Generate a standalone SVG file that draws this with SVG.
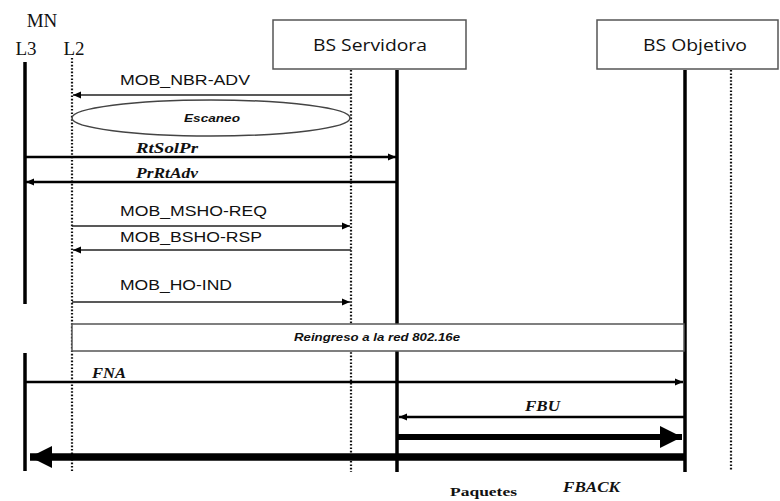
<svg xmlns="http://www.w3.org/2000/svg" width="780" height="501" viewBox="0 0 780 501">
<style>
.bg{fill:#fff}
.box{fill:#fff;stroke:#555;stroke-width:1.5}
.solid{stroke:#000;stroke-width:3.5;fill:none}
.dot{stroke:#111;stroke-width:2.2;stroke-dasharray:1.6 1.8;fill:none}
.thin{stroke:#222;stroke-width:1.6;fill:none}
.med{stroke:#000;stroke-width:2.6;fill:none}
.thick{stroke:#000;stroke-width:6;fill:none}
.thicker{stroke:#000;stroke-width:7.5;fill:none}
.lbl{font-family:"Liberation Sans",Arial,sans-serif;font-size:15.5px;fill:#111}
.hdr{font-family:"Open Sans","Noto Sans",sans-serif;font-size:16px;fill:#111}
.ser{font-family:"Liberation Serif","Times New Roman",serif;font-size:19px;fill:#111}
.bi{font-family:"Liberation Serif","Times New Roman",serif;font-size:14px;font-weight:bold;font-style:italic;fill:#111}
.bs{font-family:"Liberation Serif","Times New Roman",serif;font-size:13px;font-weight:bold;fill:#111}
.sbi{font-family:"Liberation Sans",Arial,sans-serif;font-size:10px;font-weight:bold;font-style:italic;fill:#111}
</style>
<defs>
<marker id="ah" markerUnits="userSpaceOnUse" markerWidth="10" markerHeight="10" refX="8" refY="5" orient="auto">
<path d="M0,1.5 L8,5 L0,8.5 Z" fill="#000"/>
</marker>
<marker id="big" markerUnits="userSpaceOnUse" markerWidth="24" markerHeight="24" refX="22" refY="12" orient="auto">
<path d="M0,1 L22,12 L0,23 Z" fill="#000"/>
</marker>
</defs>
<rect class="bg" x="0" y="0" width="780" height="501"/>

<g id="mn">
<text class="ser" x="42" y="27" text-anchor="middle">MN</text>
<text class="ser" x="26" y="55" text-anchor="middle">L3</text>
<text class="ser" x="74" y="55" text-anchor="middle">L2</text>
<line class="solid" x1="25" y1="62" x2="25" y2="304"/>
<line class="solid" x1="25" y1="353" x2="25" y2="471"/>
<line class="dot" x1="72" y1="58" x2="72" y2="472"/>
</g>

<g id="bs-servidora">
<rect class="box" x="273" y="20" width="193" height="49"/>
<text class="hdr" x="370" y="51" text-anchor="middle" textLength="114" lengthAdjust="spacingAndGlyphs">BS Servidora</text>
<line class="dot" x1="351" y1="70" x2="351" y2="472"/>
<line class="solid" x1="397" y1="70" x2="397" y2="472"/>
</g>

<g id="bs-objetivo">
<rect class="box" x="597" y="20" width="181" height="49"/>
<text class="hdr" x="695" y="51" text-anchor="middle" textLength="104" lengthAdjust="spacingAndGlyphs">BS Objetivo</text>
<line class="solid" x1="685" y1="70" x2="685" y2="472"/>
<line class="dot" x1="731" y1="70" x2="731" y2="471"/>
</g>

<g id="escaneo">
<ellipse cx="211" cy="118" rx="139" ry="18" fill="#fff" stroke="#444" stroke-width="1.5"/>
<text class="sbi" x="212" y="122" text-anchor="middle" textLength="56" lengthAdjust="spacingAndGlyphs">Escaneo</text>
</g>

<g id="reingreso">
<rect x="72" y="324" width="612" height="27" fill="#fff" stroke="#555" stroke-width="1.5"/>
<text class="sbi" x="377" y="341" text-anchor="middle" textLength="166" lengthAdjust="spacingAndGlyphs">Reingreso a la red 802.16e</text>
</g>

<g id="connectors">
<line class="thin" x1="351" y1="95" x2="73" y2="95" marker-end="url(#ah)"/>
<line class="med" x1="25" y1="157" x2="396" y2="157" marker-end="url(#ah)"/>
<line class="med" x1="397" y1="182" x2="26" y2="182" marker-end="url(#ah)"/>
<line class="thin" x1="72" y1="226" x2="350" y2="226" marker-end="url(#ah)"/>
<line class="thin" x1="351" y1="250" x2="73" y2="250" marker-end="url(#ah)"/>
<line class="thin" x1="72" y1="302" x2="350" y2="302" marker-end="url(#ah)"/>
<line class="med" x1="25" y1="382" x2="683" y2="382" marker-end="url(#ah)"/>
<line class="med" x1="685" y1="417" x2="399" y2="417" marker-end="url(#ah)"/>
<line class="thick" x1="397" y1="437" x2="682" y2="437" marker-end="url(#big)"/>
<line class="thicker" x1="685" y1="457" x2="30" y2="457" marker-end="url(#big)"/>
</g>

<g id="labels">
<text class="lbl" x="120" y="85" textLength="130" lengthAdjust="spacingAndGlyphs">MOB_NBR-ADV</text>
<text class="bi" x="136" y="153" textLength="62" lengthAdjust="spacingAndGlyphs">RtSolPr</text>
<text class="bi" x="136" y="178" textLength="62" lengthAdjust="spacingAndGlyphs">PrRtAdv</text>
<text class="lbl" x="120" y="216" textLength="147" lengthAdjust="spacingAndGlyphs">MOB_MSHO-REQ</text>
<text class="lbl" x="120" y="242" textLength="142" lengthAdjust="spacingAndGlyphs">MOB_BSHO-RSP</text>
<text class="lbl" x="120" y="290" textLength="112" lengthAdjust="spacingAndGlyphs">MOB_HO-IND</text>
<text class="bi" x="92" y="378" textLength="34" lengthAdjust="spacingAndGlyphs">FNA</text>
<text class="bi" x="525" y="411" textLength="35" lengthAdjust="spacingAndGlyphs">FBU</text>
<text class="bs" x="450" y="496" textLength="67" lengthAdjust="spacingAndGlyphs">Paquetes</text>
<text class="bi" x="563" y="492" textLength="57" lengthAdjust="spacingAndGlyphs">FBACK</text>
</g>
</svg>
